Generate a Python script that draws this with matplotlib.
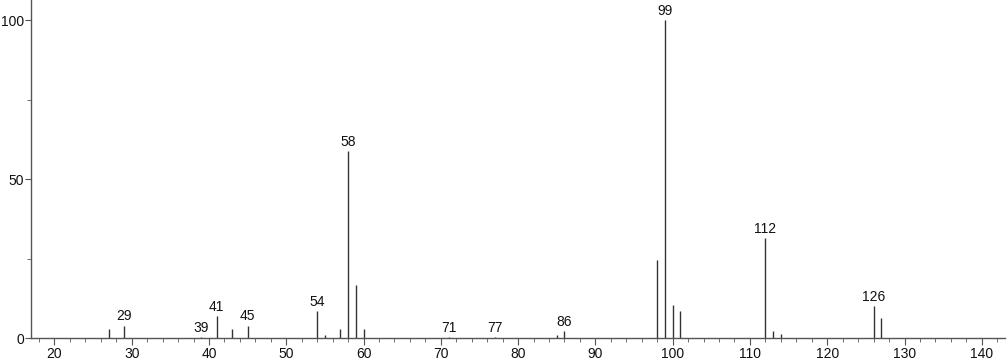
import numpy as np
import matplotlib
matplotlib.use('Agg')
import matplotlib.pyplot as plt
from matplotlib.ticker import MultipleLocator

# m/z and relative intensity
mz = [27, 29, 39, 41, 43, 45, 54, 55, 57, 58, 59, 60, 71, 77, 85, 86,
      98, 99, 100, 101, 112, 113, 114, 126, 127]
intensity = [3.0, 4.0, 0.5, 7.0, 3.0, 4.0, 8.5, 1.0, 3.0, 58.8, 16.9, 3.0,
             0.5, 0.5, 1.0, 2.2, 24.6, 100.0, 10.6, 8.5, 31.5, 2.2, 1.2,
             10.0, 6.5]
labeled = [29, 39, 41, 45, 54, 58, 71, 77, 86, 99, 112, 126]

plt.rcParams['font.family'] = ['Liberation Sans', 'DejaVu Sans']

fig = plt.figure(figsize=(10.07, 3.62), dpi=100)
ax = fig.add_axes([0.031, 0.0655, 0.967, 0.9345])

ax.vlines(mz, 0, intensity, colors='#333333', linewidth=1.0)

for m, h in zip(mz, intensity):
    if m in labeled:
        ax.annotate(str(m), (m, h), xytext=(0, 1.5), textcoords='offset points',
                    ha='center', va='bottom', fontsize=10, color='#111111')

ax.set_xlim(17, 143)
ax.set_ylim(0, 106.4)
ax.xaxis.set_major_locator(MultipleLocator(10))
ax.xaxis.set_minor_locator(MultipleLocator(2))
ax.yaxis.set_major_locator(MultipleLocator(50))
ax.yaxis.set_minor_locator(MultipleLocator(25))
ax.set_xticks(np.arange(20, 141, 10))

for s in ['top', 'right']:
    ax.spines[s].set_visible(False)
for s in ['left', 'bottom']:
    ax.spines[s].set_color('#555555')
    ax.spines[s].set_linewidth(1.0)

ax.tick_params(axis='x', which='major', direction='out', length=5,
               color='#555555', labelsize=10, pad=1.5, labelcolor='#111111')
ax.tick_params(axis='y', which='major', direction='out', length=4.5,
               color='#555555', labelsize=10, pad=0.5, labelcolor='#111111')
ax.tick_params(axis='both', which='minor', direction='out', length=3,
               color='#555555')

fig.savefig('out.png', dpi=100)
